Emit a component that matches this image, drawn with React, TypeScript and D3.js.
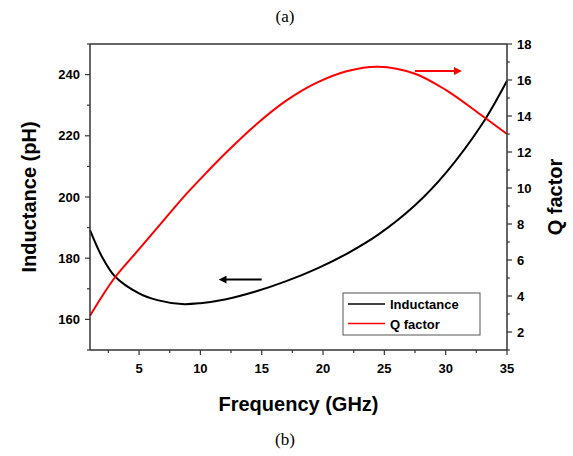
import React from 'react';
import * as d3 from 'd3';

// values
const freq = [1, 2, 3, 5, 6.5, 8.5, 10, 12, 14.5, 17, 19.5, 22, 24.5, 27.5, 30, 33, 35];
const inductance = [189.2, 180.3, 174.2, 168.5, 166.3, 165.0, 165.3, 166.5, 169.1, 172.5, 176.6, 181.6, 187.7, 197.3, 207.8, 224.0, 238.0];
const qFactor = [2.9, 4.0, 5.0, 6.6, 7.8, 9.4, 10.5, 11.9, 13.5, 14.85, 15.85, 16.5, 16.74, 16.35, 15.45, 14.0, 13.0];

const xTicks = [5, 10, 15, 20, 25, 30, 35];
const xMinor = [2.5, 7.5, 12.5, 17.5, 22.5, 27.5, 32.5];
const lTicks = [160, 180, 200, 220, 240];
const lMinor = [150, 170, 190, 210, 230, 250];
const qTicks = [2, 4, 6, 8, 10, 12, 14, 16, 18];
const qMinor = [1, 3, 5, 7, 9, 11, 13, 15, 17];

const legendItems = [
  { label: 'Inductance', color: '#000' },
  { label: 'Q factor', color: '#ff0000' },
];

export default function App() {
  const width = 573;
  const height = 456;
  const margin = { top: 44, right: 66, bottom: 106, left: 90 };
  const x0 = margin.left;
  const x1 = width - margin.right;
  const y0 = margin.top;
  const y1 = height - margin.bottom;

  const x = d3.scaleLinear().domain([1, 35]).range([x0, x1]);
  const yL = d3.scaleLinear().domain([150, 250]).range([y1, y0]);
  const yQ = d3.scaleLinear().domain([1, 18]).range([y1, y0]);

  const lineL = d3.line<number>()
    .x((_, i) => x(freq[i]))
    .y(d => yL(d))
    .curve(d3.curveCatmullRom.alpha(0.5))(inductance) || '';
  const lineQ = d3.line<number>()
    .x((_, i) => x(freq[i]))
    .y(d => yQ(d))
    .curve(d3.curveCatmullRom.alpha(0.5))(qFactor) || '';

  const font = 'Liberation Sans, Arial, sans-serif';
  const axisColor = '#333';
  const major = 5;
  const minor = 3;

  // arrows (in data units)
  const blackArrow = { from: 15.0, to: 12.0, y: 173 };
  const redArrow = { from: 27.5, to: 30.8, y: 16.5 };

  const legendX = 343;
  const legendY = 293;

  return (
    <svg width={width} height={height} style={{ position: 'absolute', left: 0, top: 0, background: '#fff' }}>
      <defs>
        <marker id="ahBlack" viewBox="0 0 10 10" refX="2" refY="5" markerWidth="4" markerHeight="4" orient="auto-start-reverse">
          <path d="M0,0 L10,5 L0,10 z" fill="#000" />
        </marker>
        <marker id="ahRed" viewBox="0 0 10 10" refX="2" refY="5" markerWidth="4" markerHeight="4" orient="auto-start-reverse">
          <path d="M0,0 L10,5 L0,10 z" fill="#ff0000" />
        </marker>
      </defs>

      <text x={285} y={22} textAnchor="middle" fontFamily="Liberation Serif, Times New Roman, serif" fontSize={17}>(a)</text>
      <text x={285} y={445} textAnchor="middle" fontFamily="Liberation Serif, Times New Roman, serif" fontSize={17}>(b)</text>

      {/* curves */}
      <path d={lineL} fill="none" stroke="#000" strokeWidth={2} />
      <path d={lineQ} fill="none" stroke="#ff0000" strokeWidth={2} />

      {/* frame */}
      <line x1={x0} x2={x1} y1={y0} y2={y0} stroke={axisColor} strokeWidth={1.5} />
      <line x1={x0} x2={x1} y1={y1} y2={y1} stroke={axisColor} strokeWidth={1.5} />
      <line x1={x0} x2={x0} y1={y0} y2={y1} stroke={axisColor} strokeWidth={1.5} />
      <line x1={x1} x2={x1} y1={y0} y2={y1} stroke={axisColor} strokeWidth={1.5} />

      {/* x axis */}
      {xTicks.map(t => (
        <g key={'x' + t}>
          <line x1={x(t)} x2={x(t)} y1={y1} y2={y1 + major} stroke={axisColor} strokeWidth={1.2} />
          <text x={x(t)} y={y1 + 23} textAnchor="middle" fontFamily={font} fontWeight="bold" fontSize={13}>{t}</text>
        </g>
      ))}
      {xMinor.map(t => (
        <line key={'xm' + t} x1={x(t)} x2={x(t)} y1={y1} y2={y1 + minor} stroke={axisColor} strokeWidth={1.2} />
      ))}
      <text x={(x0 + x1) / 2} y={y1 + 61} textAnchor="middle" fontFamily={font} fontWeight="bold" fontSize={20}>Frequency (GHz)</text>

      {/* left axis */}
      {lTicks.map(t => (
        <g key={'l' + t}>
          <line x1={x0 - major} x2={x0} y1={yL(t)} y2={yL(t)} stroke={axisColor} strokeWidth={1.2} />
          <text x={x0 - 10} y={yL(t) + 4.5} textAnchor="end" fontFamily={font} fontWeight="bold" fontSize={13}>{t}</text>
        </g>
      ))}
      {lMinor.map(t => (
        <line key={'lm' + t} x1={x0 - minor} x2={x0} y1={yL(t)} y2={yL(t)} stroke={axisColor} strokeWidth={1.2} />
      ))}
      <text
        transform={`translate(36,${(y0 + y1) / 2}) rotate(-90)`}
        textAnchor="middle" fontFamily={font} fontWeight="bold" fontSize={20}
      >Inductance (pH)</text>

      {/* right axis */}
      {qTicks.map(t => (
        <g key={'q' + t}>
          <line x1={x1} x2={x1 + major} y1={yQ(t)} y2={yQ(t)} stroke={axisColor} strokeWidth={1.2} />
          <text x={x1 + 10} y={yQ(t) + 4.5} textAnchor="start" fontFamily={font} fontWeight="bold" fontSize={13}>{t}</text>
        </g>
      ))}
      {qMinor.map(t => (
        <line key={'qm' + t} x1={x1} x2={x1 + minor} y1={yQ(t)} y2={yQ(t)} stroke={axisColor} strokeWidth={1.2} />
      ))}
      <text
        transform={`translate(562,${(y0 + y1) / 2}) rotate(-90)`}
        textAnchor="middle" fontFamily={font} fontWeight="bold" fontSize={20}
      >Q factor</text>

      {/* arrows */}
      <line x1={x(blackArrow.from)} x2={x(blackArrow.to)} y1={yL(blackArrow.y)} y2={yL(blackArrow.y)}
        stroke="#000" strokeWidth={2} markerEnd="url(#ahBlack)" />
      <line x1={x(redArrow.from)} x2={x(redArrow.to)} y1={yQ(redArrow.y)} y2={yQ(redArrow.y)}
        stroke="#ff0000" strokeWidth={2} markerEnd="url(#ahRed)" />

      {/* legend */}
      <rect x={legendX} y={legendY} width={137} height={42} fill="#fff" stroke="#555" strokeWidth={1} />
      {legendItems.map((it, i) => (
        <g key={it.label}>
          <line x1={legendX + 5} x2={legendX + 42} y1={legendY + 11 + i * 19.5} y2={legendY + 11 + i * 19.5} stroke={it.color} strokeWidth={1.5} />
          <text x={legendX + 47} y={legendY + 16 + i * 19.5} fontFamily={font} fontWeight="bold" fontSize={13}>{it.label}</text>
        </g>
      ))}
    </svg>
  );
}
